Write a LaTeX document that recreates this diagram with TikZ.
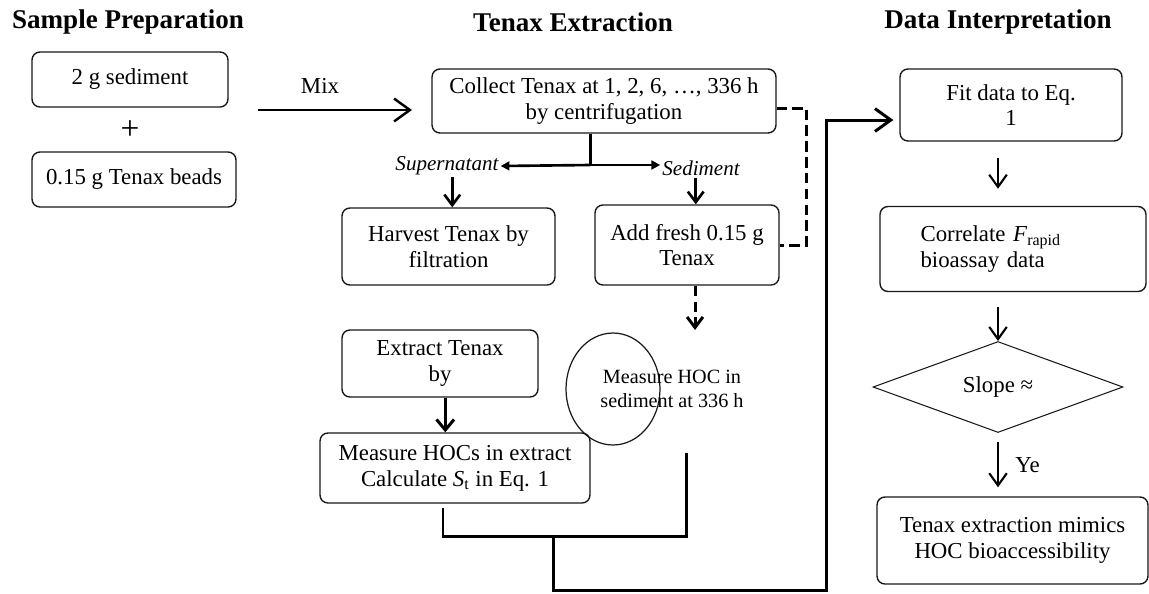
\documentclass[tikz,border=0pt]{standalone}
\usepackage{fontspec}
\setmainfont{Liberation Serif}
\usepackage{tikz}
\usetikzlibrary{arrows.meta,calc,positioning,shapes.geometric}
\definecolor{FlowInk}{HTML}{000000}
\definecolor{BoxEdge}{HTML}{1A1A1A}
\definecolor{PageBack}{HTML}{FFFFFF}

\begin{document}
\begin{tikzpicture}[x=0.02cm,y=-0.02cm,
        stepbox/.style={draw=BoxEdge, line width=0.8pt, rounded corners=4.5pt,
            align=center, inner sep=2pt, font=\fontsize{13}{14.7}\selectfont},
        headtext/.style={font=\fontsize{15.4}{17}\selectfont\bfseries},
        plaintext/.style={align=center, font=\fontsize{13}{14.7}\selectfont},
        sidetext/.style={inner sep=1pt, font=\fontsize{12}{14}\selectfont\itshape},
        flowline/.style={draw=FlowInk, line width=1.7pt},
        dashline/.style={draw=FlowInk, line width=1.7pt, dash pattern=on 6pt off 3pt},
        downarrow/.style={draw=FlowInk, line width=1.2pt, -{Straight Barb[length=7pt,width=10pt]}}
    ]
        \useasboundingbox[fill=PageBack] (0,0) rectangle (1149,593);

        \node[headtext] (h1) at (128,22) {Sample Preparation};
        \node[headtext] (h2) at (573,22) {Tenax Extraction};
        \node[headtext] (h3) at (998,22) {Data Interpretation};

        \node[stepbox, minimum width=3.92cm, minimum height=1.1cm] (s1) at (130,79.5) {2 g sediment};
        \node[font=\fontsize{19}{20}\selectfont] (plus) at (130,130) {+};
        \node[stepbox, minimum width=4.08cm, minimum height=1.1cm] (s2) at (134,179.5) {0.15 g Tenax beads};

        \coordinate (mixa) at (258,110);
        \coordinate (mixb) at (412,110);
        \draw[draw=FlowInk, line width=1.4pt, -{Straight Barb[length=9pt,width=13pt]}] (mixa) -- (mixb);
        \node[plaintext] (mix) at (320,86) {Mix};

        \node[stepbox, minimum width=6.88cm, minimum height=1.28cm] (t1) at (604,101) {Collect Tenax at 1, 2, 6, …, 336 h\\by centrifugation};
        \node[sidetext] (sup) at (447,166) {Supernatant};
        \node[sidetext] (sed) at (701,168) {Sediment};
        \coordinate (split) at (590,165);
        \draw[flowline] (t1.south -| split) -- (split);
        \draw[draw=FlowInk, line width=1.5pt, -{Triangle[length=5pt,width=5pt]}] (split) -- (sup.east);
        \draw[draw=FlowInk, line width=1.5pt, -{Triangle[length=5pt,width=5pt]}] (split) -- (split -| sed.west);

        \node[stepbox, minimum width=4.26cm, minimum height=1.54cm] (t2) at (448.5,246.5) {Harvest Tenax by\\filtration};
        \node[stepbox, minimum width=3.68cm, minimum height=1.6cm] (t3) at (687,245) {Add fresh 0.15 g\\Tenax};
        \draw[downarrow, line width=1.5pt, -{Straight Barb[length=6pt,width=9pt]}] ([xshift=3pt]sup.south) -- ([xshift=3pt]sup.south |- t2.north);
        \draw[downarrow, line width=1.5pt, -{Straight Barb[length=6pt,width=9pt]}] ([xshift=-3pt]sed.south) -- ([xshift=-3pt]sed.south |- t3.north);
        \draw[dashline] ([yshift=-4pt]t1.east) -- ++(30,0) |- (t3.east);

        \node[ellipse, draw=BoxEdge, line width=0.7pt, minimum width=1.88cm, minimum height=2.24cm, inner sep=0pt] (t4) at (613,389) {};
        \node[align=center, font=\fontsize{11.5}{13.5}\selectfont] (t5) at (672,389) {Measure HOC in\\sediment at 336 h};
        \coordinate (hocin) at (695,330);
        \draw[dashline, -{Straight Barb[length=6pt,width=9pt]}] (t3.south -| hocin) -- (hocin);

        \node[stepbox, minimum width=3.92cm, minimum height=1.34cm] (t6) at (440,363.5) {Extract Tenax\\by};
        \node[stepbox, minimum width=5.4cm, minimum height=1.4cm] (t7) at (455,468) {Measure HOCs in extract\\Calculate \textit{S}\textsubscript{t} in Eq. 1};
        \draw[flowline, -{Straight Barb[length=6pt,width=10pt]}] ([xshift=3pt]t6.south) -- ([xshift=3pt]t6.south |- t7.north);

        \coordinate (hocend) at (686,453);
        \coordinate (join) at (553,536);
        \coordinate (bus) at (826,590);
        \draw[flowline] ($(t7.south)+(-12,4)$) |- (hocend |- join) -- (hocend);

        \node[stepbox, minimum width=4.44cm, minimum height=1.44cm] (d1) at (1011,105) {Fit data to Eq.\\1};
        \node[stepbox, minimum width=5.32cm, minimum height=1.7cm, text width=3.7cm, align=left] (d2) at (1013,249) {Correlate \textit{F}\textsubscript{rapid}\\bioassay data};
        \node[diamond, draw=BoxEdge, line width=0.6pt, minimum width=5cm, minimum height=1.64cm, inner sep=0pt, font=\fontsize{13}{14.7}\selectfont] (d3) at (998,387) {Slope ≈};
        \node[stepbox, minimum width=5.42cm, minimum height=1.74cm] (d4) at (1012.5,540.5) {Tenax extraction mimics\\HOC bioaccessibility};

        \draw[flowline, -{Straight Barb[length=9pt,width=13pt]}] (join) |- (bus) |- ($(d1.west)+(-6,15)$);

        \draw[downarrow] ($(d1.south -| d3)+(0,16)$) -- ($(d2.north -| d3)+(0,-17)$);
        \draw[downarrow] ($(d2.south -| d3)+(0,15)$) -- (d3.north);
        \draw[downarrow] ($(d3.south)+(0,9)$) -- ($(d3.south |- d4.north)+(0,-9)$) node[midway, right=6pt, plaintext] (ye) {Ye};
    \end{tikzpicture}
\end{document}
